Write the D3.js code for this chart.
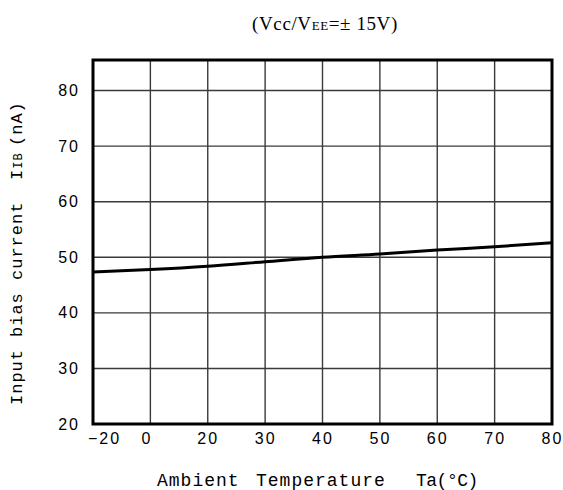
<!DOCTYPE html>
<html lang="en">
<head>
<meta charset="UTF-8">
<title>Input bias current vs Ambient Temperature</title>
<style>
  body { margin: 0; background: #fff; }
  .tick text { font-family: "Liberation Sans", sans-serif; font-size: 16px; letter-spacing: 2px; fill: #000; }
  .label { font-family: "Liberation Mono", monospace; font-size: 18px; letter-spacing: 1px; fill: #000; white-space: pre; }
</style>
<script src="https://d3js.org/d3.v7.min.js"></script>
</head>
<body>
<div id="chart"></div>
<script>
  // values
  const tempTicks = [-20, 0, 20, 30, 40, 50, 60, 70, 80]
  const biasCurrent = [47.35, 47.8, 48.4, 49.2, 50.0, 50.6, 51.3, 51.9, 52.6]
  const currentTicks = [20, 30, 40, 50, 60, 70, 80]

  const margin = {top: 60, right: 11, bottom: 66, left: 93},
    width = 563 - margin.left - margin.right,
    height = 490 - margin.top - margin.bottom

  const svg = d3.select("#chart")
    .append("svg")
    .attr("width", 563)
    .attr("height", 490)

  const g = svg.append("g")
    .attr("transform", `translate(${margin.left},${margin.top})`)

  // the temperature labels are evenly spaced on the sheet, so map them piecewise
  const x = d3.scaleLinear()
    .domain(tempTicks)
    .range(tempTicks.map((d, i) => i * width / (tempTicks.length - 1)))

  const y = d3.scaleLinear()
    .domain([20, 85.5])
    .range([height, 0])

  //grid
  g.append("g")
    .selectAll("line")
    .data(tempTicks.slice(1, -1))
    .join("line")
    .attr("x1", d => x(d)).attr("x2", d => x(d))
    .attr("y1", 0).attr("y2", height)
    .attr("stroke", "#3a3a3a")
    .attr("stroke-width", 1.4)

  g.append("g")
    .selectAll("line")
    .data(currentTicks.slice(1))
    .join("line")
    .attr("x1", 0).attr("x2", width)
    .attr("y1", d => y(d)).attr("y2", d => y(d))
    .attr("stroke", "#3a3a3a")
    .attr("stroke-width", 1.4)

  //axes
  const xAxis = g.append("g")
    .attr("transform", `translate(0,${height})`)
    .call(d3.axisBottom(x)
      .tickValues(tempTicks)
      .tickSize(0)
      .tickPadding(9)
      .tickFormat(d => d < 0 ? "\u2212" + Math.abs(d) : d))
  xAxis.select(".domain").remove()
  xAxis.selectAll(".tick text")
    .attr("dx", d => d < 0 ? 11 : (d === 0 ? -4 : 0))

  const yAxis = g.append("g")
    .call(d3.axisLeft(y)
      .tickValues(currentTicks)
      .tickSize(0)
      .tickPadding(13))
  yAxis.select(".domain").remove()

  //curve
  const line = d3.line()
    .x(d => x(d.t))
    .y(d => y(d.v))
    .curve(d3.curveMonotoneX)

  g.append("path")
    .datum(tempTicks.map((t, i) => ({t: t, v: biasCurrent[i]})))
    .attr("d", line)
    .attr("fill", "none")
    .attr("stroke", "#000")
    .attr("stroke-width", 3)

  //frame
  g.append("rect")
    .attr("width", width)
    .attr("height", height)
    .attr("fill", "none")
    .attr("stroke", "#000")
    .attr("stroke-width", 3)

  //title
  const title = svg.append("text")
    .attr("x", 325)
    .attr("y", 30)
    .attr("text-anchor", "middle")
    .style("font-family", "'Liberation Serif', serif")
    .style("font-size", "19px")
    .style("letter-spacing", "0.6px")
  title.append("tspan").text("(Vcc/V")
  title.append("tspan").style("font-size", "13px").text("EE")
  title.append("tspan").text("=\u00b1 15V)")

  //x label
  const xl = svg.append("text").attr("class", "label").attr("y", 486)
  xl.append("tspan").attr("x", 157).text("Ambient")
  xl.append("tspan").attr("x", 256).text("Temperature")
  xl.append("tspan").attr("x", 416).style("letter-spacing", "-0.5px").text("Ta(\u00b0C)")

  //y label
  const yl = svg.append("text").attr("class", "label")
    .attr("transform", "rotate(-90)")
    .attr("y", 22)
    .style("font-size", "17px")
  yl.append("tspan").attr("x", -405).text("Input")
  yl.append("tspan").attr("x", -337).text("bias")
  yl.append("tspan").attr("x", -280).text("current")
  yl.append("tspan").attr("x", -180).text("I")
  yl.append("tspan").style("font-size", "12px").text("IB")
  yl.append("tspan").attr("x", -146).text("(nA)")
</script>
</body>
</html>
